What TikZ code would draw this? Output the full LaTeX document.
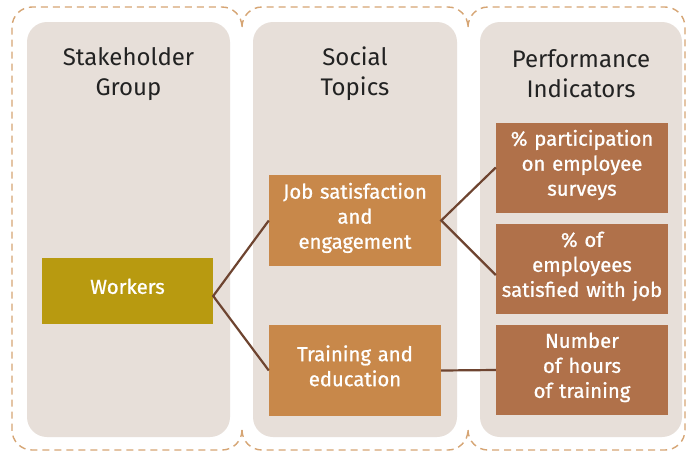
\documentclass[tikz,border=0pt]{standalone}
\usepackage{fontspec}
\setmainfont{Fira Sans}
\newfontfamily\medfont{Fira Sans}[FakeBold=0.9]
\newcommand\lowstrut{\rule[-9.5pt]{0pt}{9.5pt}}
\definecolor{panel}{HTML}{E7DFD9}
\definecolor{dashc}{HTML}{D6A574}
\definecolor{olive}{HTML}{B89A10}
\definecolor{topicc}{HTML}{C8884A}
\definecolor{indc}{HTML}{B0714A}
\definecolor{linkc}{HTML}{6E4430}
\definecolor{titlec}{HTML}{222222}
\begin{document}
\begin{tikzpicture}[x=1pt,y=-1pt,
  dashbox/.style={draw=dashc,line width=1.4pt,dash pattern=on 7pt off 5pt,rounded corners=20pt},
  panelbox/.style={fill=panel,rounded corners=20pt},
  title/.style={text=titlec,align=center,font=\fontsize{24}{30}\selectfont,inner sep=0pt},
  boxbase/.style={text=white,align=center,inner sep=0pt,font=\medfont\fontsize{20.3}{25}\selectfont,minimum width=172pt},
  workerbox/.style={boxbase,fill=olive,minimum width=171pt,minimum height=66pt},
  topicbox/.style={boxbase,fill=topicc,minimum height=91pt,text width=170pt},
  indbox/.style={boxbase,fill=indc,minimum height=90pt,text width=170pt},
  link/.style={draw=linkc,line width=2.2pt}]
\useasboundingbox (0,0) rectangle (686,451);
\fill[white] (0,0) rectangle (686,451);
% dashed regions
\draw[dashbox] (242,430) -- (242,450) -- (12,450) -- (12,7) -- (242,7) -- (242,27);
\draw[dashbox] (242,27) -- (242,7) -- (468,7) -- (468,27);
\draw[dashbox] (242,430) -- (242,450) -- (468,450) -- (468,430);
\draw[dashbox] (468,27) -- (468,7) -- (685,7) -- (685,450) -- (468,450) -- (468,430);
% panels
\fill[panelbox] (27,22) rectangle (230,437);
\fill[panelbox] (253,22) rectangle (457,437);
\fill[panelbox] (480,22) rectangle (682,437);
% titles
\node[title] (t1) at (128.5,74) {Stakeholder\\Group};
\node[title] (t2) at (355,74) {Social\\Topics};
\node[title] (t3) at (581,74) {Performance\\Indicators};
% boxes
\node[workerbox] (workers) at (127.5,291) {Workers\lowstrut};
\node[topicbox] (job) at (355,220.5) {Job satisfaction\\and\\engagement\lowstrut};
\node[topicbox] (train) at (355,370.5) {Training and\\education\lowstrut};
\node[indbox] (i1) at (582,167.5) {\% participation\\on employee\\surveys\lowstrut};
\node[indbox] (i2) at (582,269) {\% of\\employees\\satisfied with job\lowstrut};
\node[indbox] (i3) at (582,370) {Number\\of hours\\of training\lowstrut};
% connectors
\draw[link] (job.west) -- ([yshift=-5pt]workers.east) -- (train.west);
\draw[link] (i1.west) -- (job.east) -- ([yshift=-6pt]i2.west);
\draw[link] (train.east) -- (i3.west);
\end{tikzpicture}
\end{document}
